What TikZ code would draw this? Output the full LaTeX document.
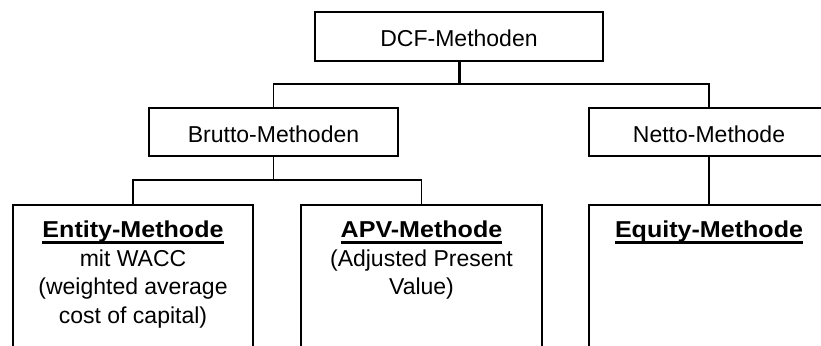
\documentclass[tikz,border=0pt]{standalone}
\usepackage{fontspec}
\setmainfont{Liberation Sans}[BoldFeatures={FakeStretch=1.09}]
\newsavebox\ulbox
% bold heading with a heavy underline
\newcommand{\ulbold}[1]{\sbox\ulbox{\bfseries #1}\rlap{\rule[-6pt]{\wd\ulbox}{2.4pt}}\usebox\ulbox}
\begin{document}
\begin{tikzpicture}[x=1pt,y=-1pt,
  box/.style={draw, line width=1.7pt, inner sep=0pt,
    font=\fontsize{23}{28.5}\selectfont, text height=21pt, text depth=0pt},
  txt/.style={align=center, inner sep=0pt, font=\fontsize{23}{28.5}\selectfont},
  link/.style={line width=1.7pt},
  stem/.style={line width=3pt}]
\useasboundingbox (0,0) rectangle (821,345);
\clip (0,0) rectangle (821,345);

% upper levels
\node[box, minimum width=288pt, minimum height=49pt] (dcf) at (459,36.5) {DCF-Methoden};
\node[box, minimum width=249pt, minimum height=48pt] (brutto) at (273.5,132) {Brutto-Methoden};
\node[box, minimum width=240pt, minimum height=48pt] (netto) at (709,132) {Netto-Methode};

% lower level (open towards the bottom)
\node[box, minimum width=240pt, minimum height=170pt, anchor=north] (entity) at (133,204) {};
\node[box, minimum width=241pt, minimum height=170pt, anchor=north] (apv) at (421.5,204) {};
\node[box, minimum width=240pt, minimum height=170pt, anchor=north] (equity) at (709,204) {};

\node[txt, anchor=north] (entitytext) at ([yshift=-17pt]entity.north)
  {\ulbold{Entity-Methode}\\mit WACC\\(weighted average\\cost of capital)};
\node[txt, anchor=north] (apvtext) at ([yshift=-17pt]apv.north)
  {\ulbold{APV-Methode}\\(Adjusted Present\\Value)};
\node[txt, anchor=north] (equitytext) at ([yshift=-17pt]equity.north)
  {\ulbold{Equity-Methode}};

% connectors
\coordinate (top) at (459,84);
\coordinate (mid) at (273.5,180);
\draw[stem] (dcf.south) -- (top);
\draw[link] (brutto.north) |- (top) -| (netto.north);
\draw[link] (brutto.south) -- (mid);
\draw[link] (entity.north) |- (mid) -| (apv.north);
\draw[link] (netto.south) -- (equity.north);
\end{tikzpicture}
\end{document}
